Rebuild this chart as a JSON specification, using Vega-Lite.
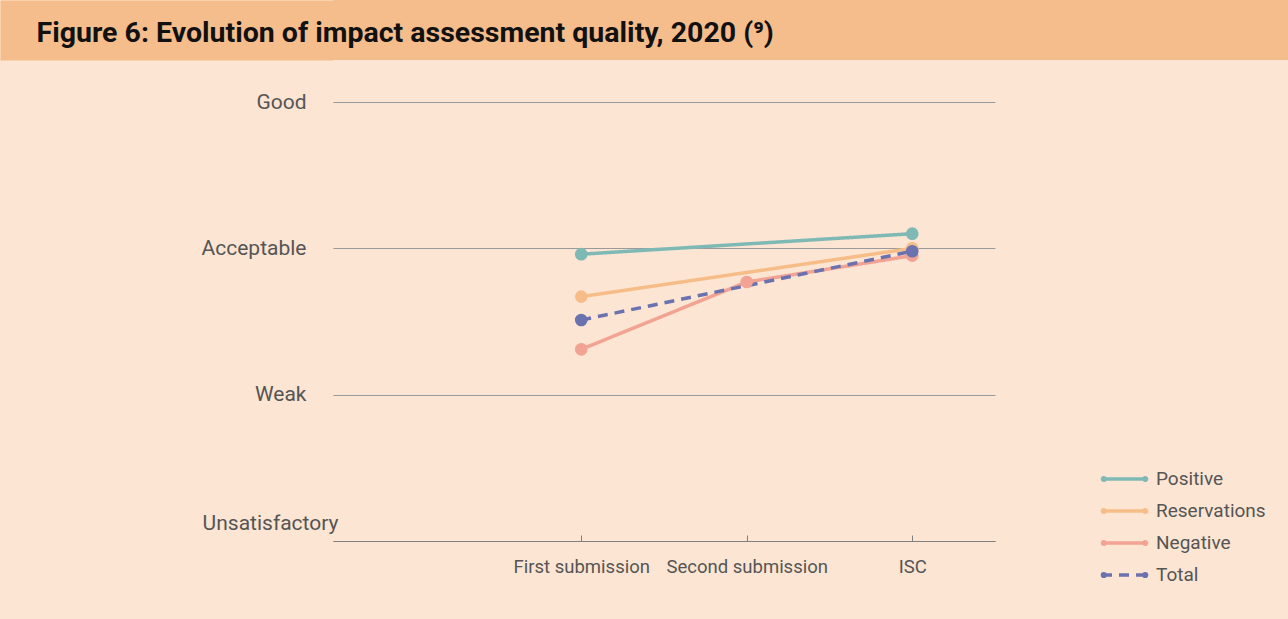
{
  "$schema": "https://vega.github.io/schema/vega-lite/v6.json",
  "padding": {"left": -30, "top": 0, "right": 0, "bottom": 45},
  "background": "#fce5d2",
  "spacing": 31,
  "datasets": {
    "header": [{"title": "Figure 6: Evolution of impact assessment quality, 2020 (⁹)"}],
    "quality": [
      {"series": "Positive", "stage": "First submission", "score": 2.96},
      {"series": "Positive", "stage": "ISC", "score": 3.10},
      {"series": "Reservations", "stage": "First submission", "score": 2.67},
      {"series": "Reservations", "stage": "ISC", "score": 3.00},
      {"series": "Negative", "stage": "First submission", "score": 2.31},
      {"series": "Negative", "stage": "Second submission", "score": 2.77},
      {"series": "Negative", "stage": "ISC", "score": 2.95},
      {"series": "Total", "stage": "First submission", "score": 2.51},
      {"series": "Total", "stage": "ISC", "score": 2.98}
    ]
  },
  "vconcat": [
    {
      "width": 955,
      "height": 60,
      "view": {"fill": "#f5bd8b", "stroke": null},
      "data": {"name": "header"},
      "mark": {"type": "tick", "opacity": 0},
      "encoding": {
        "y": {
          "field": "title", "type": "nominal",
          "axis": {
            "title": null, "domain": false, "ticks": true, "tickSize": 333, "tickWidth": 60, "tickColor": "#f5bd8b",
            "labelAlign": "left", "labelBaseline": "middle", "labelPadding": -36, "labelOffset": 3, "labelLimit": 0,
            "labelFont": "Roboto", "labelFontWeight": "bold", "labelFontSize": 28.5, "labelColor": "#111111"
          }
        }
      }
    },
    {
      "width": 662,
      "height": 439,
      "data": {"name": "quality"},
      "encoding": {
        "x": {
          "field": "stage", "type": "ordinal",
          "scale": {"type": "point", "domain": ["", "First submission", "Second submission", "ISC"], "padding": 0.5},
          "axis": {
            "values": ["First submission", "Second submission", "ISC"],
            "title": null, "labelAngle": 0, "labelFont": "Roboto", "labelFontSize": 18.5, "labelColor": "#555555",
            "domainColor": "#808080", "tickColor": "#808080", "tickSize": -6, "labelPadding": 22, "grid": false
          }
        },
        "y": {
          "field": "score", "type": "quantitative",
          "scale": {"domain": [1, 4], "nice": false, "zero": false},
          "axis": {
            "values": [1, 2, 3, 4],
            "labelExpr": "datum.value == 4 ? 'Good' : datum.value == 3 ? 'Acceptable' : datum.value == 2 ? 'Weak' : 'Unsatisfactory'",
            "title": null, "domain": false, "ticks": false, "grid": true, "gridColor": "#9a9a9a", "gridWidth": 1,
            "labelFont": "Roboto", "labelFontSize": 21, "labelColor": "#555555",
            "labelPadding": {"condition": {"test": "datum.value == 1", "value": -5}, "value": 27},
            "labelOffset": {"condition": {"test": "datum.value == 1", "value": -18}, "value": 0},
            "minExtent": 333
          }
        },
        "color": {
          "field": "series", "type": "nominal",
          "scale": {"domain": ["Positive", "Reservations", "Negative", "Total"], "range": ["#7fb9b5", "#f6bd88", "#f2a393", "#6a72b0"]},
          "legend": {"title": null, "orient": "none", "legendX": 767, "legendY": 464}
        }
      },
      "layer": [
        {
          "mark": {"type": "line", "strokeWidth": 3.5},
          "encoding": {
            "strokeDash": {
              "field": "series", "type": "nominal",
              "scale": {"domain": ["Positive", "Reservations", "Negative", "Total"], "range": [[1, 0], [1, 0], [1, 0], [10, 7]]},
              "legend": {"title": null, "orient": "none", "legendX": 767, "legendY": 464}
            }
          }
        },
        {
          "mark": {"type": "point", "filled": true, "size": 160, "opacity": 1}
        }
      ]
    }
  ],
  "config": {
    "view": {"stroke": null},
    "font": "Roboto",
    "legend": {
      "symbolType": "M-1,0L1,0M-0.98,0A0.06,0.06,0,1,0,-0.86,0A0.06,0.06,0,1,0,-0.98,0M0.86,0A0.06,0.06,0,1,0,0.98,0A0.06,0.06,0,1,0,0.86,0",
      "symbolSize": 2025, "symbolStrokeWidth": 3.5,
      "labelFont": "Roboto", "labelFontSize": 19, "labelColor": "#555555", "labelOffset": 7,
      "clipHeight": 30, "rowPadding": 2, "padding": 0
    }
  }
}
